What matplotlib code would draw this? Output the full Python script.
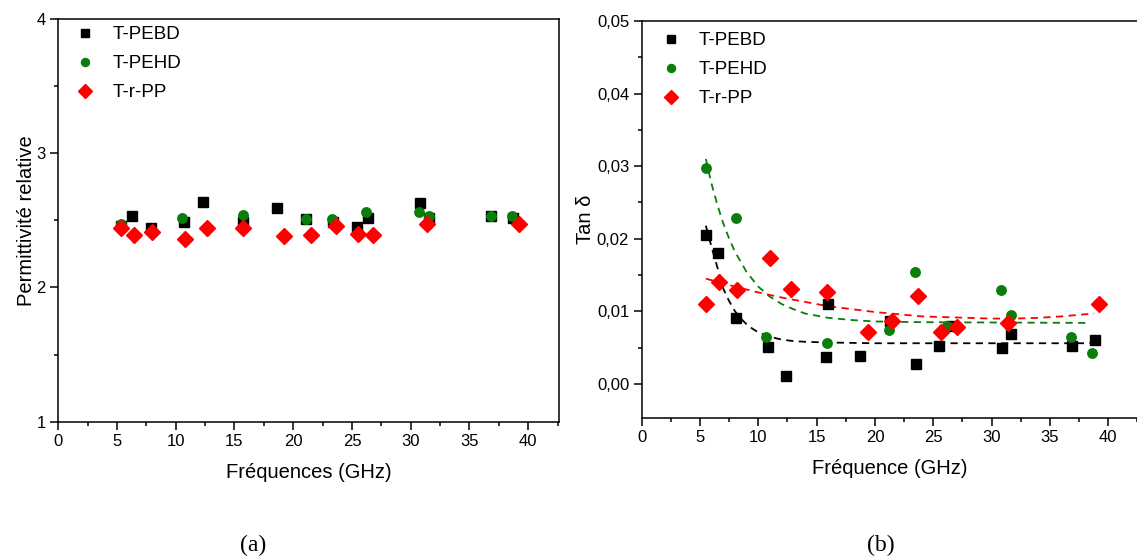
import matplotlib
matplotlib.use("Agg")
import matplotlib.pyplot as plt
from matplotlib.ticker import MultipleLocator, FuncFormatter

plt.rcParams["font.family"] = ["Liberation Sans", "DejaVu Sans"]

# (a) permittivite relative
f_pebd_a = [5.3, 6.3, 7.9, 10.7, 12.3, 15.75, 18.6, 21.1, 23.4, 25.4, 26.4, 30.8, 31.6, 36.8, 38.7]
eps_pebd = [2.46, 2.53, 2.44, 2.49, 2.64, 2.49, 2.59, 2.51, 2.49, 2.45, 2.52, 2.63, 2.52, 2.53, 2.52]
f_pehd_a = [5.3, 10.55, 15.75, 21.1, 23.3, 26.2, 30.7, 31.6, 36.8, 38.6]
eps_pehd = [2.47, 2.52, 2.54, 2.51, 2.51, 2.56, 2.56, 2.53, 2.53, 2.53]
f_pp_a = [5.3, 6.44, 7.95, 10.78, 12.68, 15.75, 19.2, 21.5, 23.6, 25.5, 26.8, 31.35, 39.2]
eps_pp = [2.44, 2.39, 2.41, 2.36, 2.44, 2.44, 2.38, 2.39, 2.46, 2.40, 2.39, 2.47, 2.47]

# (b) tan delta
f_pebd_b = [5.5, 6.5, 8.1, 10.8, 12.4, 15.8, 16.0, 18.75, 21.3, 23.5, 25.5, 26.5, 30.9, 31.7, 36.9, 38.9]
tan_pebd = [0.0205, 0.0181, 0.0091, 0.0051, 0.0011, 0.0037, 0.0110, 0.0039, 0.0086, 0.0027,
            0.0052, 0.0080, 0.0049, 0.0069, 0.0052, 0.0060]
f_pehd_b = [5.5, 8.1, 10.7, 15.9, 21.2, 23.4, 26.2, 30.85, 31.7, 36.85, 38.6]
tan_pehd = [0.0298, 0.0229, 0.0064, 0.0057, 0.0074, 0.0154, 0.0080, 0.0129, 0.0095, 0.0064, 0.0042]
f_pp_b = [5.5, 6.6, 8.2, 11.0, 12.8, 15.9, 19.4, 21.5, 23.7, 25.65, 27.0, 31.4, 39.25]
tan_pp = [0.0110, 0.0141, 0.0129, 0.0174, 0.0131, 0.0126, 0.0072, 0.0087, 0.0121, 0.0072,
          0.0078, 0.0084, 0.0110]

# courbes d'ajustement
fit_pebd_x = [5.5, 6.0, 6.5, 7.0, 7.5, 8.0, 8.5, 9.0, 9.5, 10.0, 11.0, 12.0, 13.0, 14.0, 16.0, 20.0, 38.9]
fit_pebd_y = [0.0218, 0.0188, 0.0160, 0.0131, 0.0114, 0.0100, 0.0090, 0.0082, 0.0076, 0.0071,
              0.0065, 0.0061, 0.0059, 0.0058, 0.0057, 0.0056, 0.0056]
fit_pehd_x = [5.5, 6.0, 6.5, 7.0, 7.5, 8.0, 9.0, 10.0, 11.0, 12.0, 13.0, 14.0, 16.0, 18.0, 20.0, 24.0, 38.4]
fit_pehd_y = [0.0310, 0.0275, 0.0246, 0.0221, 0.0200, 0.0182, 0.0154, 0.0134, 0.0120, 0.0110,
              0.0103, 0.0097, 0.0091, 0.0088, 0.0086, 0.0085, 0.0084]
fit_pp_x = [5.5, 8.0, 10.0, 12.0, 14.0, 16.0, 18.0, 20.0, 22.0, 24.0, 26.0, 28.0, 30.0, 32.0, 34.0, 36.0, 38.8]
fit_pp_y = [0.0145, 0.0134, 0.0126, 0.0119, 0.0113, 0.0107, 0.0103, 0.0099, 0.0096, 0.0093,
            0.0092, 0.0091, 0.0090, 0.0090, 0.0091, 0.0093, 0.0097]

labels = ["T-PEBD", "T-PEHD", "T-r-PP"]
W, H = 1137, 556


def px_axes(fig, left, top, right, bottom):
    return fig.add_axes([left / W, 1 - bottom / H, (right - left) / W, (bottom - top) / H])


def style_axes(ax):
    for s in ax.spines.values():
        s.set_linewidth(1.1)
    ax.tick_params(which="both", direction="out", top=False, right=False, labelsize=12, width=1.1)
    ax.tick_params(which="major", length=5.5)
    ax.tick_params(which="minor", length=3)
    ax.xaxis.set_major_locator(MultipleLocator(5))
    ax.xaxis.set_minor_locator(MultipleLocator(2.5))


def comma(v, pos):
    return f"{v:.2f}".replace(".", ",")


fig = plt.figure(figsize=(W / 100, H / 100), dpi=100)
green = "#0a7d0a"
red = "#ff0000"

# --- (a)
ax1 = px_axes(fig, 58.3, 19, 558.7, 421.7)
ax1.plot(f_pebd_a, eps_pebd, "s", color="black", ms=7, label=labels[0], zorder=3)
ax1.plot(f_pehd_a, eps_pehd, "o", color=green, ms=6.8, label=labels[1], zorder=4)
ax1.plot(f_pp_a, eps_pp, "D", color=red, ms=7.8, label=labels[2], zorder=5)
ax1.set_xlim(0, 42.6)
ax1.set_ylim(1, 4)
style_axes(ax1)
ax1.yaxis.set_major_locator(MultipleLocator(1))
ax1.yaxis.set_minor_locator(MultipleLocator(0.5))
ax1.set_xlabel("Fréquences (GHz)", fontsize=14.5, labelpad=10)
ax1.set_ylabel("Permittivité relative", fontsize=14.5, labelpad=0)
ax1.legend(loc="upper left", bbox_to_anchor=(0.0346, 0.9826), frameon=False, fontsize=13.5,
           handlelength=1.0, handletextpad=0.95, labelspacing=0.64, borderaxespad=0, borderpad=0,
           markerscale=0.85)

# --- (b)
ax2 = px_axes(fig, 641.7, 21, 1138.5, 418)
ax2.plot(fit_pebd_x, fit_pebd_y, "--", color="black", lw=1.3, dashes=(4, 3), zorder=2)
ax2.plot(fit_pehd_x, fit_pehd_y, "--", color=green, lw=1.3, dashes=(4, 3), zorder=2)
ax2.plot(fit_pp_x, fit_pp_y, "--", color=red, lw=1.3, dashes=(4, 3), zorder=2)
ax2.plot(f_pebd_b, tan_pebd, "s", color="black", ms=7, label=labels[0], zorder=3)
ax2.plot(f_pehd_b, tan_pehd, "o", color=green, ms=6.8, label=labels[1], zorder=4)
ax2.plot(f_pp_b, tan_pp, "D", color=red, ms=7.8, label=labels[2], zorder=5)
ax2.set_xlim(0, 42.6)
ax2.set_ylim(-0.0047, 0.05)
style_axes(ax2)
ax2.yaxis.set_major_locator(MultipleLocator(0.01))
ax2.yaxis.set_minor_locator(MultipleLocator(0.005))
ax2.yaxis.set_major_formatter(FuncFormatter(comma))
ax2.set_xlabel("Fréquence (GHz)", fontsize=14.5, labelpad=10)
ax2.set_ylabel("Tan δ", fontsize=14.5, labelpad=1)
ax2.legend(loc="upper left", bbox_to_anchor=(0.041, 0.972), frameon=False, fontsize=13.5,
           handlelength=1.0, handletextpad=0.95, labelspacing=0.64, borderaxespad=0, borderpad=0,
           markerscale=0.85)

fig.text(253 / W, 1 - 545 / H, "(a)", family="Liberation Serif", fontsize=17, ha="center", va="center")
fig.text(881 / W, 1 - 545 / H, "(b)", family="Liberation Serif", fontsize=17, ha="center", va="center")

fig.savefig("out.png", dpi=100)
